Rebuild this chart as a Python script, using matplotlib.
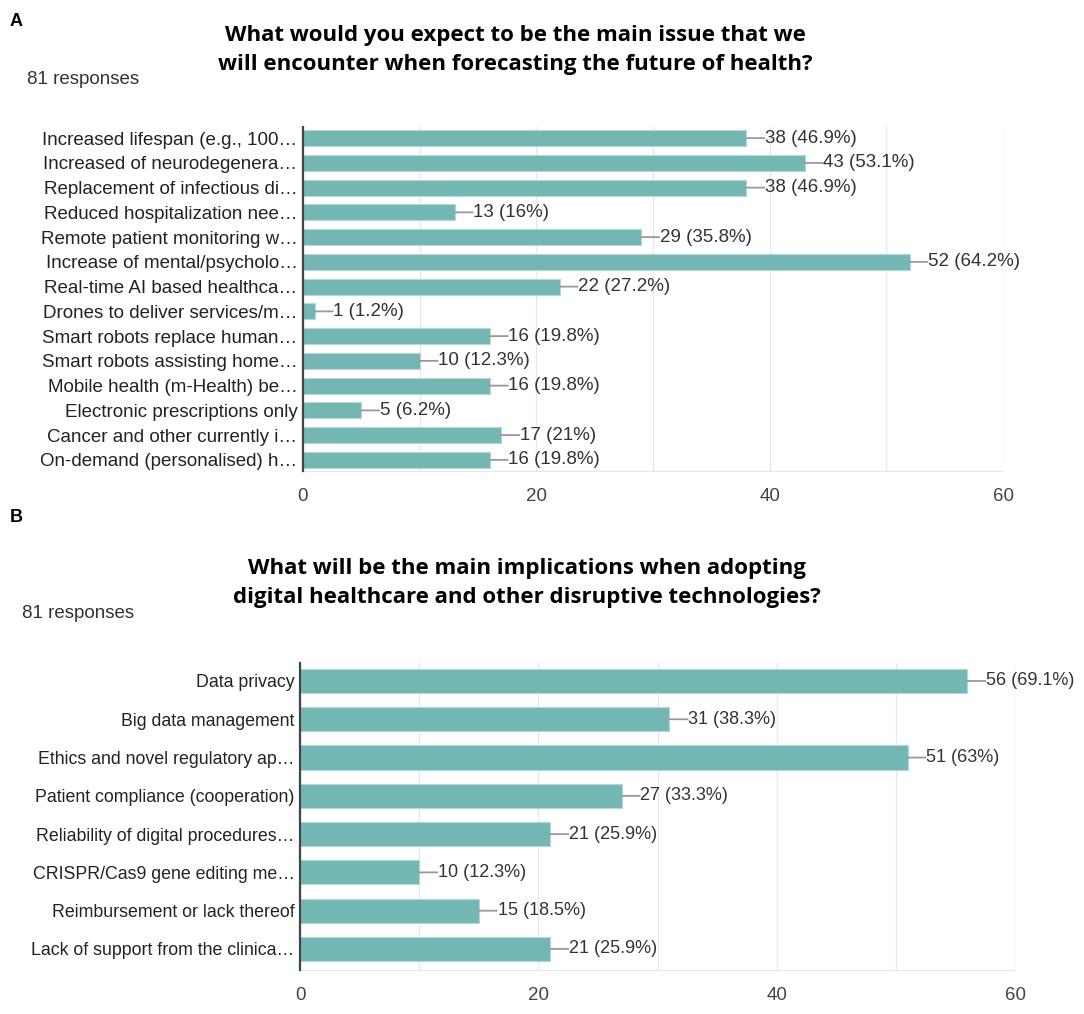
import numpy as np
import matplotlib
matplotlib.use("Agg")
from matplotlib import pyplot as plt

# panel A data
labels_a = ['Increased lifespan (e.g., 100…', 'Increased of neurodegenera…',
            'Replacement of infectious di…', 'Reduced hospitalization nee…',
            'Remote patient monitoring w…', 'Increase of mental/psycholo…',
            'Real-time AI based healthca…', 'Drones to deliver services/m…',
            'Smart robots replace human…', 'Smart robots assisting home…',
            'Mobile health (m-Health) be…', 'Electronic prescriptions only',
            'Cancer and other currently i…', 'On-demand (personalised) h…']
counts_a = [38, 43, 38, 13, 29, 52, 22, 1, 16, 10, 16, 5, 17, 16]
pct_a = ['46.9%', '53.1%', '46.9%', '16%', '35.8%', '64.2%', '27.2%', '1.2%',
         '19.8%', '12.3%', '19.8%', '6.2%', '21%', '19.8%']

# panel B data
labels_b = ['Data privacy', 'Big data management', 'Ethics and novel regulatory ap…',
            'Patient compliance (cooperation)', 'Reliability of digital procedures…',
            'CRISPR/Cas9 gene editing me…', 'Reimbursement or lack thereof',
            'Lack of support from the clinica…']
counts_b = [56, 31, 51, 27, 21, 10, 15, 21]
pct_b = ['69.1%', '38.3%', '63%', '33.3%', '25.9%', '12.3%', '18.5%', '25.9%']

ticks = [0, 20, 40, 60]
bar_color = '#74b6b3'
W, H = 1084, 1014

plt.rcParams['font.family'] = ['Liberation Sans', 'DejaVu Sans']


def draw_panel(ax, labels, counts, pcts, bar_h, ylim, label_size, value_size):
    y = np.arange(len(labels))
    ax.barh(y, counts, height=bar_h, color=bar_color, edgecolor='#b3d8d5',
            linewidth=0.8, zorder=3)
    for yi, c, p in zip(y, counts, pcts):
        # short grey leader line from the bar end to the label
        ax.annotate('', xy=(c, yi), xytext=(13, 0), textcoords='offset points',
                    xycoords='data',
                    arrowprops=dict(arrowstyle='-', color='#999999', lw=1.3,
                                    shrinkA=0, shrinkB=0))
        ax.annotate('{} ({})'.format(c, p), xy=(c, yi), xytext=(13.5, 0),
                    textcoords='offset points', va='center', ha='left',
                    fontsize=value_size, color='#333333')
    ax.set_yticks(y)
    ax.set_yticklabels(labels, fontsize=label_size, color='#222222')
    ax.set_ylim(ylim)
    ax.set_xlim(0, 60)
    ax.set_xticks(ticks)
    ax.set_xticks(range(0, 61, 10), minor=True)
    ax.tick_params(axis='x', which='both', length=0, pad=12, labelsize=13.5,
                   labelcolor='#444444')
    ax.tick_params(axis='y', length=0, pad=4)
    ax.grid(axis='x', which='both', color='#e8e8e8', lw=1, zorder=0)
    for s in ['top', 'right']:
        ax.spines[s].set_visible(False)
    ax.spines['bottom'].set_color('#e8e8e8')
    ax.spines['left'].set_color('#444444')
    ax.spines['left'].set_linewidth(1.6)
    ax.spines['left'].set_zorder(4)


fig = plt.figure(figsize=(W / 100, H / 100), dpi=100)

ax_a = fig.add_axes([303 / W, 1 - 471 / H, 700 / W, 344 / H])
draw_panel(ax_a, labels_a, counts_a, pct_a, 0.65, (13.45, -0.45), 13.5, 13.5)

ax_b = fig.add_axes([300 / W, 1 - 970 / H, 715 / W, 307 / H])
draw_panel(ax_b, labels_b, counts_b, pct_b, 0.63, (7.55, -0.47), 12.8, 13)

# titles and headers
title_font = ['Open Sans', 'DejaVu Sans']
fig.text(10 / W, 1 - 22 / H, 'A', fontsize=13, fontweight='bold', va='center')
fig.text(515 / W, 1 - 50 / H,
         'What would you expect to be the main issue that we\n'
         'will encounter when forecasting the future of health?',
         ha='center', va='center', fontsize=16, fontweight='bold',
         family=title_font, linespacing=1.5)
fig.text(27 / W, 1 - 80 / H, '81 responses', fontsize=13.5, color='#333333',
         va='center')

fig.text(10 / W, 1 - 518 / H, 'B', fontsize=13, fontweight='bold', va='center')
fig.text(527 / W, 1 - 583 / H,
         'What will be the main implications when adopting\n'
         'digital healthcare and other disruptive technologies?',
         ha='center', va='center', fontsize=16, fontweight='bold',
         family=title_font, linespacing=1.5)
fig.text(22 / W, 1 - 614 / H, '81 responses', fontsize=13.5, color='#333333',
         va='center')

fig.savefig('out.png', dpi=100)
